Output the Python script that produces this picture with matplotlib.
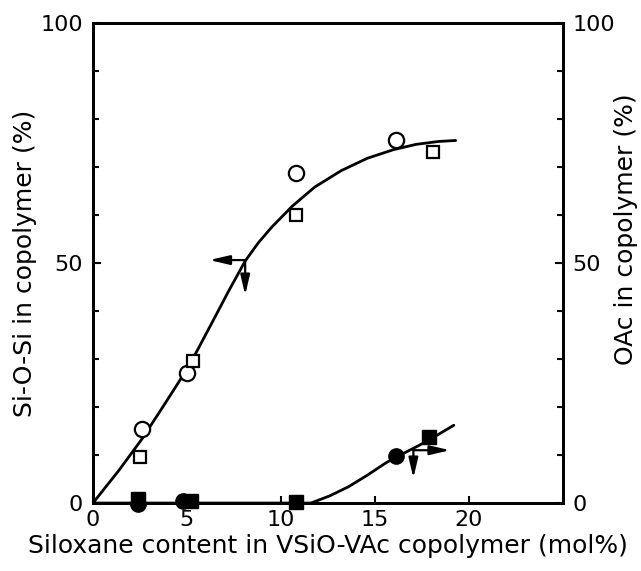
import matplotlib.pyplot as plt

# measured points (x = siloxane content, mol%)
sios_circle_x = [2.6, 5.0, 10.8, 16.1]
sios_circle_y = [15.5, 27.0, 68.8, 75.5]
sios_square_x = [2.5, 5.3, 10.8, 18.1]
sios_square_y = [9.6, 29.5, 60.0, 73.0]

oac_circle_x = [2.4, 4.8, 16.1]
oac_circle_y = [-0.3, 0.5, 9.8]
oac_square_x = [2.4, 5.2, 10.8, 17.9]
oac_square_y = [0.8, 0.5, 0.3, 13.7]

# curves
sios_curve_x = [0.0, 1.4, 2.6, 3.6, 4.6, 5.5, 6.3, 7.2, 8.1, 8.8, 9.5, 10.6, 11.8, 13.2, 14.6, 16.0, 17.2, 18.4, 19.3]
sios_curve_y = [0.0, 6.9, 13.3, 19.3, 25.4, 31.4, 37.3, 44.0, 50.4, 54.2, 57.4, 61.8, 65.8, 69.2, 71.8, 73.6, 74.7, 75.3, 75.5]
oac_curve_x = [0.0, 11.6, 12.6, 13.6, 14.6, 15.6, 16.5, 17.4, 18.3, 19.2]
oac_curve_y = [0.0, 0.0, 1.5, 3.4, 5.8, 8.4, 10.3, 12.1, 14.1, 16.2]

x_ticks = [0, 5, 10, 15, 20]
y_ticks = [0, 50, 100]


def style_axis(ax):
    ax.set_xlim(0, 25)
    ax.set_ylim(0, 100)
    ax.set_yticks(y_ticks)
    ax.set_yticks(range(0, 101, 10), minor=True)
    ax.tick_params(which="both", direction="in", width=1.5, labelsize=16)
    ax.tick_params(which="major", length=6, pad=7)
    ax.tick_params(which="minor", length=4)
    for sp in ax.spines.values():
        sp.set_linewidth(2)


fig = plt.figure(figsize=(6.41, 5.71), dpi=100)
ax = fig.add_axes([0.145, 0.119, 0.733, 0.841])
style_axis(ax)
ax.set_xticks(x_ticks)
ax.tick_params(axis="x", length=5, pad=5)
ax.tick_params(axis="y", right=False, left=True)

ax2 = ax.twinx()
style_axis(ax2)

lw = 2.0
ax.plot(sios_curve_x, sios_curve_y, color="black", lw=lw, solid_capstyle="round")
ax.plot(oac_curve_x, oac_curve_y, color="black", lw=lw, solid_capstyle="round")

ax.plot(sios_circle_x, sios_circle_y, "o", ms=11, mfc="white", mec="black", mew=1.6, ls="none", zorder=3)
ax.plot(sios_square_x, sios_square_y, "s", ms=9, mfc="white", mec="black", mew=1.6, ls="none", zorder=3)
ax.plot(oac_circle_x, oac_circle_y, "o", ms=11, mfc="black", mec="black", ls="none", zorder=3, clip_on=False)
ax.plot(oac_square_x, oac_square_y, "s", ms=10, mfc="black", mec="black", ls="none", zorder=3, clip_on=False)

arrow = dict(arrowstyle="-|>,head_length=1.2,head_width=0.28", color="black", lw=1.6, shrinkA=0, shrinkB=0)
ax.annotate("", xy=(6.2, 50.6), xytext=(8.1, 50.6), arrowprops=arrow)
ax.annotate("", xy=(8.1, 43.3), xytext=(8.1, 50.6), arrowprops=arrow)
ax.annotate("", xy=(19.0, 11.0), xytext=(17.05, 11.0), arrowprops=arrow)
ax.annotate("", xy=(17.05, 5.2), xytext=(17.05, 11.0), arrowprops=arrow)

ax.set_xlabel("Siloxane content in VSiO-VAc copolymer (mol%)", fontsize=18, labelpad=3)
ax.set_ylabel("Si-O-Si in copolymer (%)", fontsize=18)
ax.yaxis.set_label_coords(-0.12, 0.5)
ax2.set_ylabel("OAc in copolymer (%)", fontsize=18)
ax2.yaxis.set_label_coords(1.11, 0.57)

fig.savefig("out.png", dpi=100)
